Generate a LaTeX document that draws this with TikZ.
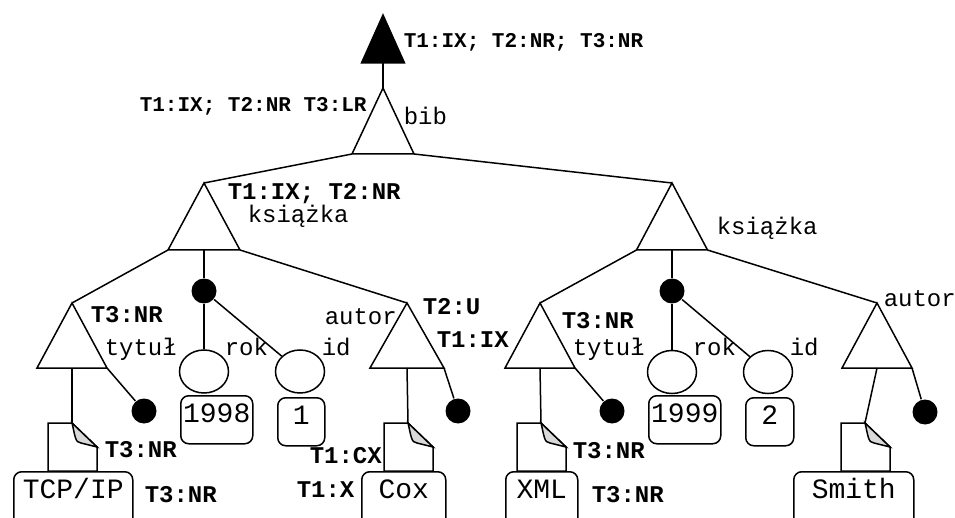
\documentclass[tikz,border=0pt]{standalone}
\usepackage{fontspec}
\setmonofont{Liberation Mono}
\usetikzlibrary{shapes.geometric, calc}

% triangle: [extra style]{name}{apex x}{apex y}{half base}{height}
\newcommand{\trinode}[6][]{%
  \coordinate (#2)   at (#3,#4);
  \coordinate (#2-l) at (#3-#5,#4+#6);
  \coordinate (#2-r) at (#3+#5,#4+#6);
  \coordinate (#2-b) at (#3,#4+#6);
  \draw[tri,#1] (#2) -- (#2-l) -- (#2-r) -- cycle;}
% document: {name}{fold x}{top y}
\newcommand{\docnode}[3]{%
  \coordinate (#1) at (#2,#3);
  \draw[doc] (#2,#3) -- (#2-24,#3) -- (#2-24,#3+48) -- (#2+25,#3+48)
             -- (#2+25,#3+24) -- cycle;
  \draw[doc, fill=gray!30] (#2,#3) .. controls (#2+3,#3+12) and (#2+3,#3+20) ..
             (#2+9,#3+20) -- (#2+25,#3+24) -- cycle;}

\begin{document}
\begin{tikzpicture}[x=1pt, y=-1pt, line width=1.5pt,
  tri/.style={draw, line join=miter},
  doc/.style={draw, line join=miter},
  dot/.style={circle, fill=black, inner sep=0pt, minimum size=25pt},
  attr/.style={ellipse, draw, inner sep=0pt, minimum width=49pt, minimum height=43pt},
  valbox/.style={rectangle, draw, rounded corners=8pt, anchor=north west,
                 inner sep=2pt, text height=25pt, text depth=19pt,
                 font=\fontsize{28}{28}\selectfont\ttfamily},
  leafbox/.style={valbox, text depth=45pt},
  lbl/.style={inner sep=0pt, anchor=base west,
              font=\fontsize{24}{24}\selectfont\ttfamily\bfseries},
  lbltop/.style={lbl, font=\fontsize{21}{21}\selectfont\ttfamily\bfseries},
  tag/.style={inner sep=0pt, anchor=base west,
              font=\fontsize{24}{24}\selectfont\ttfamily},
]
\useasboundingbox (0,0) rectangle (955,518);
\clip (0,0) rectangle (955,518);

%% ── top: root and bib ─────────────────────────────────────────────
\trinode[fill=black]{root}{383}{15}{21.5}{48}
\trinode{bib}{383}{88}{31}{66}
\draw (root-b) -- (bib);
\node[lbltop] (ann-root) at (403,48)  {T1:IX; T2:NR; T3:NR};
\node[lbltop] (ann-bib)  at (139,112) {T1:IX; T2:NR T3:LR};
\node[tag]    (tag-bib)  at (403,125) {bib};

%% ── książka (left) ────────────────────────────────────────────────
\trinode{ks1}{204}{183}{36}{67}
\draw (bib-l) -- (ks1);
\node[lbl] (ann-ks1) at (227,200) {T1:IX; T2:NR};
\node[tag] (tag-ks1) at (247,223) {książka};

\trinode{ty1}{72}{303}{35}{65}
\node[dot] (dty1) at (144,411) {};
\draw (ks1-l) -- (ty1);
\draw (ty1-r) -- (dty1);
\node[lbl] (ann-ty1) at (90,323)  {T3:NR};
\node[tag] (tag-ty1) at (104,355) {tytuł};
\docnode{doc1}{72}{423}
\draw (ty1-b) -- (doc1);
\node[leafbox, minimum width=119pt] (v-tcp) at (13,471) {TCP/IP};
\node[lbl] (ann-doc1) at (104,457) {T3:NR};
\node[lbl] (ann-tcp)  at (144,502) {T3:NR};

\node[dot]  (dat1) at (204,291) {};
\node[attr] (rok1) at (204,371.5) {};
\node[attr] (id1)  at (300,371.5) {};
\draw (ks1-b) -- (dat1);
\draw (dat1) -- (rok1);
\draw (dat1) -- (id1);
\node[tag] (tag-rok1) at (224,355) {rok};
\node[tag] (tag-id1)  at (321,355) {id};
\node[valbox, minimum width=72pt] (v-1998) at (180,395) {1998};
\node[valbox, minimum width=47pt] (v-1)    at (277,397) {1};

\trinode{au1}{407}{303}{37}{65}
\node[dot] (dau1) at (458,411) {};
\draw (ks1-r) -- (au1);
\draw (au1-r) -- (dau1);
\node[tag] (tag-au1) at (324,325) {autor};
\node[lbl] (ann-au1) at (422,315) {T2:U};
\node[lbl] (ann-au1b) at (436,347) {T1:IX};
\docnode{doc2}{408}{423}
\draw (au1-b) -- (doc2);
\node[leafbox, minimum width=84pt] (v-cox) at (361,471) {Cox};
\node[lbl] (ann-doc2) at (309,463) {T1:CX};
\node[lbl] (ann-cox)  at (296,497) {T1:X};

%% ── książka (right) ───────────────────────────────────────────────
\trinode{ks2}{672}{183}{35.5}{67}
\draw (bib-r) -- (ks2);
\node[tag] (tag-ks2) at (716,235) {książka};

\trinode{ty2}{540}{303}{35}{65}
\node[dot] (dty2) at (612,411) {};
\draw (ks2-l) -- (ty2);
\draw (ty2-r) -- (dty2);
\node[lbl] (ann-ty2) at (561,328) {T3:NR};
\node[tag] (tag-ty2) at (572,355) {tytuł};
\docnode{doc3}{541}{423}
\draw (ty2-b) -- (doc3);
\node[leafbox, minimum width=72pt] (v-xml) at (505,471) {XML};
\node[lbl] (ann-doc3) at (572,458) {T3:NR};
\node[lbl] (ann-xml)  at (591,502) {T3:NR};

\node[dot]  (dat2) at (672,291) {};
\node[attr] (rok2) at (672,372) {};
\node[attr] (id2)  at (768,372) {};
\draw (ks2-b) -- (dat2);
\draw (dat2) -- (rok2);
\draw (dat2) -- (id2);
\node[tag] (tag-rok2) at (692,355) {rok};
\node[tag] (tag-id2)  at (789,355) {id};
\node[valbox, minimum width=72pt] (v-1999) at (648,395) {1999};
\node[valbox, minimum width=48pt] (v-2)    at (745,397) {2};

\trinode{au2}{877}{303}{35}{65}
\node[dot] (dau2) at (925,412) {};
\draw (ks2-r) -- (au2);
\draw (au2-r) -- (dau2);
\node[tag] (tag-au2) at (883,307) {autor};
\docnode{doc4}{865}{423}
\draw (au2-b) -- (doc4);
\node[leafbox, minimum width=120pt] (v-smith) at (793,471) {Smith};

\end{tikzpicture}
\end{document}
